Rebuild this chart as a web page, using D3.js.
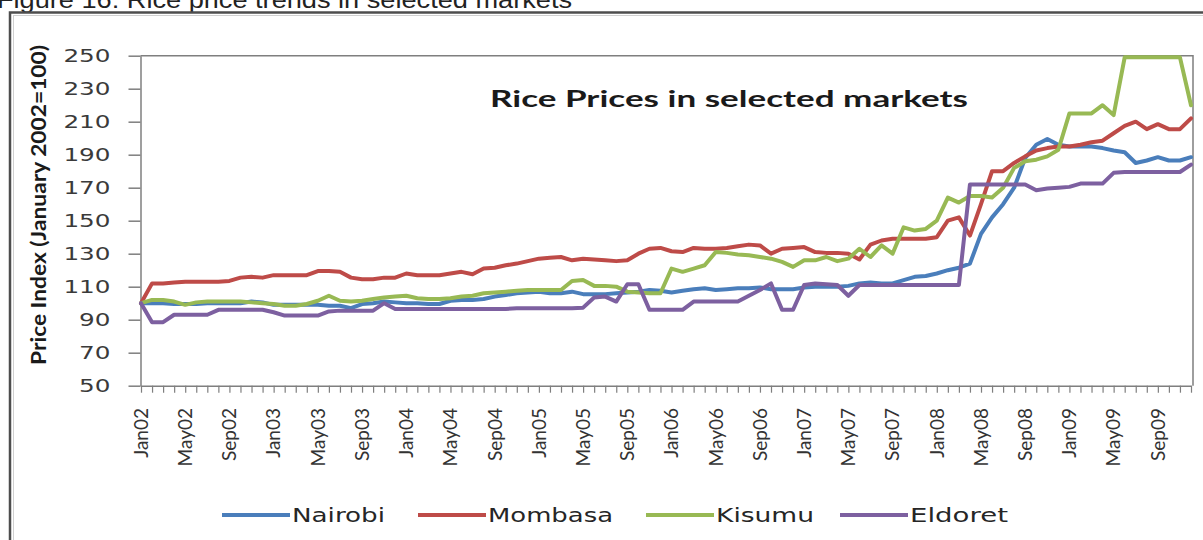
<!DOCTYPE html>
<html>
<head>
<meta charset="utf-8">
<script src="https://cdn.jsdelivr.net/npm/d3@7"></script>
<style>
  body { margin: 0; background: #fff; }
  svg { display: block; }
</style>
</head>
<body>
<div id="chart"></div>
<script>
// categories: one point per month, Jan02 .. Dec09
var monthNames = ["Jan","Feb","Mar","Apr","May","Jun","Jul","Aug","Sep","Oct","Nov","Dec"];
var years = ["02","03","04","05","06","07","08","09"];
var months = [];
years.forEach(function(yy) { monthNames.forEach(function(m) { months.push(m + yy); }); });

var yTicks = [50, 70, 90, 110, 130, 150, 170, 190, 210, 230, 250];

var nairobi = [
  100,100,100,99.5,99.5,99.5,100,100,100,100,101,100.5,
  99,99,99,99,99,98.5,98.5,97,99.5,100,101,100.5,
  100,100,99.5,99.5,101.5,102,102,102.5,104,105,106,106.5,
  107,106,106,107,105.5,105.5,105.5,106,106.5,107,108,107.5,
  106.5,107.5,108.5,109,108,108.5,109,109,109.5,108.5,108.5,108.5,
  109.5,110,110,110,110.5,112,112.5,112,112,114,116,116.5,
  118,120,121.5,124,142,152,160,170,188,196,199.5,196,
  195,195,195,194,192.5,191.5,185,186.5,188.5,186.5,186.5,188.5];

var mombasa = [
  100,112,112,112.5,113,113,113,113,113.5,115.5,116,115.5,
  117,117,117,117,119.5,119.5,119,115.5,114.5,114.5,115.5,115.5,
  118,117,117,117,118,119,117.5,121,121.5,123,124,125.5,
  127,127.5,128,126,127,126.5,126,125.5,126,130,133,133.5,
  131.5,131,133.5,133,133,133.5,134.5,135.5,135,130,133,133.5,
  134,131,130.5,130.5,130,126.5,135.5,138,139,139,139,139,
  140,150,152,141,160,180,180,185,189,192.5,194,195,
  195,196,197.5,198.5,203,207.5,210,205.5,208.5,205.5,205.5,212];

var kisumu = [
  100,102,102,101,99,100.5,101,101,101,101,100.5,100,
  99.5,98.5,98.5,99.5,101.5,104.5,101.5,101,101.5,102.5,103.5,104,
  104.5,103,102.5,102.5,103,104,104.5,106,106.5,107,107.5,108,
  108,108,108,113.5,114,110.5,110.5,110,107,106.5,106,106,
  121,119,121,123,131,130.5,129.5,129,128,127,125,122,
  126,126,128,125.5,127,133,128,135,130,146,144,145,
  150,164,161,165,165,164,170,182,186,187,189,193,
  215,215,215,220,214,249,249,249,249,249,249,220];

var eldoret = [
  100,88.5,88.5,93,93,93,93,96,96,96,96,96,
  94.5,92.5,92.5,92.5,92.5,95,95.5,95.5,95.5,95.5,100,96.5,
  96.5,96.5,96.5,96.5,96.5,96.5,96.5,96.5,96.5,96.5,97,97,
  97,97,97,97,97.3,103.5,104,101,111.5,111.5,96,96,
  96,96,101,101,101,101,101,104.5,108,112,96,96,
  111,112,111.5,111,104.5,111,111,111,111,111,111,111,
  111,111,111,172,172,172,172,172,172,168.5,169.5,170,
  170.5,172.5,172.5,172.5,179,179.5,179.5,179.5,179.5,179.5,179.5,184];

var seriesNames = ["Nairobi", "Mombasa", "Kisumu", "Eldoret"];
var seriesValues = [nairobi, mombasa, kisumu, eldoret];
var seriesColors = ["#4a7ebb", "#be4b48", "#98b954", "#7d60a0"];

var width = 1203, height = 540;
var plotLeft = 141, plotRight = 1191, plotTop = 55.7, plotBottom = 385.7;

var svg = d3.select("#chart")
  .append("svg")
  .attr("width", width)
  .attr("height", height);

svg.append("rect").attr("width", width).attr("height", height).attr("fill", "#fff");

// caption, cut at the top edge
svg.append("text")
  .attr("x", -3)
  .attr("y", 8)
  .attr("textLength", 575)
  .attr("lengthAdjust", "spacingAndGlyphs")
  .style("font-family", "'Liberation Sans', Arial, sans-serif")
  .style("font-size", "24px")
  .style("fill", "#222")
  .text("Figure 16: Rice price trends in selected markets");

// outer frame
svg.append("rect")
  .attr("x", 10).attr("y", 12.5)
  .attr("width", 1260).attr("height", 600)
  .attr("fill", "none")
  .attr("stroke", "#4d4d4d")
  .attr("stroke-width", 2.5);
svg.append("rect")
  .attr("x", 13.5).attr("y", 15.5)
  .attr("width", 1260).attr("height", 600)
  .attr("fill", "none")
  .attr("stroke", "#d0d0d0")
  .attr("stroke-width", 1);

var x = d3.scalePoint()
  .domain(months)
  .range([plotLeft, plotRight]);

var y = d3.scaleLinear()
  .domain([50, 250])
  .range([plotBottom, plotTop]);

// plot area border (top and right)
svg.append("path")
  .attr("d", "M" + (plotLeft - 0.5) + "," + y(250) + "H" + (plotRight + 2) + "V" + y(50))
  .attr("fill", "none")
  .attr("stroke", "#7f7f7f")
  .attr("stroke-width", 1.5);

// y axis
var yAxis = svg.append("g")
  .attr("transform", "translate(" + (plotLeft - 0.5) + ",0)")
  .call(d3.axisLeft(y).tickValues(yTicks).tickSize(12).tickSizeOuter(0).tickPadding(18));
yAxis.select(".domain").attr("stroke", "#7f7f7f").attr("stroke-width", 1.5);
yAxis.selectAll(".tick line").attr("stroke", "#7f7f7f").attr("stroke-width", 1.5);
yAxis.selectAll(".tick text")
  .attr("textLength", function(d) { return String(d).length * 15.7; })
  .attr("lengthAdjust", "spacingAndGlyphs")
  .style("font-family", "'DejaVu Sans', Verdana, sans-serif")
  .style("font-size", "18px")
  .style("fill", "#3a3a3a");

// x axis
var xAxis = svg.append("g")
  .attr("transform", "translate(0," + plotBottom + ")")
  .call(d3.axisBottom(x).tickSize(7).tickSizeOuter(0).tickFormat(""));
xAxis.select(".domain").attr("stroke", "#7f7f7f").attr("stroke-width", 1.5);
xAxis.selectAll(".tick line").attr("stroke", "#7f7f7f").attr("stroke-width", 1.2);

svg.append("g")
  .selectAll("text")
  .data(months.filter(function(d, i) { return i % 4 === 0; }))
  .enter()
  .append("text")
  .attr("transform", function(d) { return "translate(" + x(d) + ",408) rotate(-90)"; })
  .attr("text-anchor", "end")
  .attr("dy", "0.36em")
  .style("font-family", "Lato, 'Open Sans', sans-serif")
  .style("font-size", "19px")
  .style("fill", "#333")
  .text(function(d) { return d; });

// y axis title
svg.append("text")
  .attr("transform", "translate(46,205) rotate(-90)")
  .attr("text-anchor", "middle")
  .attr("textLength", 320)
  .attr("lengthAdjust", "spacingAndGlyphs")
  .style("font-family", "Lato, sans-serif")
  .style("font-weight", "bold")
  .style("font-size", "20px")
  .style("fill", "#1a1a1a")
  .text("Price Index (January 2002=100)");

// chart title
svg.append("text")
  .attr("x", 490)
  .attr("y", 107)
  .attr("textLength", 478)
  .attr("lengthAdjust", "spacingAndGlyphs")
  .style("font-family", "Lato, sans-serif")
  .style("font-weight", "bold")
  .style("font-size", "23px")
  .style("fill", "#1a1a1a")
  .text("Rice Prices in selected markets");

// lines
var line = d3.line()
  .x(function(d, i) { return x(months[i]); })
  .y(function(d) { return y(d); });

svg.append("g")
  .selectAll("path")
  .data(seriesValues)
  .enter()
  .append("path")
  .attr("d", function(d) { return line(d); })
  .attr("fill", "none")
  .attr("stroke", function(d, i) { return seriesColors[i]; })
  .attr("stroke-width", 4)
  .attr("stroke-linejoin", "round")
  .attr("stroke-linecap", "round");

// legend
var legendX = [222, 418, 646, 840];
var legendTextLen = [93, 125, 98, 98];
var legend = svg.append("g")
  .selectAll("g")
  .data(seriesNames)
  .enter()
  .append("g")
  .attr("transform", function(d, i) { return "translate(" + legendX[i] + ",515)"; });
legend.append("line")
  .attr("x1", 0).attr("x2", 68)
  .attr("stroke", function(d, i) { return seriesColors[i]; })
  .attr("stroke-width", 4);
legend.append("text")
  .attr("x", 70)
  .attr("dy", "0.36em")
  .attr("textLength", function(d, i) { return legendTextLen[i]; })
  .attr("lengthAdjust", "spacingAndGlyphs")
  .style("font-family", "'DejaVu Sans', Verdana, sans-serif")
  .style("font-size", "19px")
  .style("fill", "#262626")
  .text(function(d) { return d; });
</script>
</body>
</html>
